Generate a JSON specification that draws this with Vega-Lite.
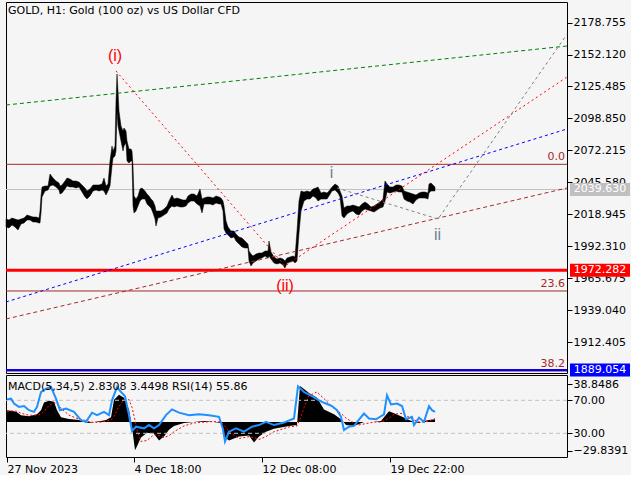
{
  "$schema": "https://vega.github.io/schema/vega-lite/v6.json",
  "background": "#F5F5F5",
  "padding": {"left": 2, "top": 1, "right": 0, "bottom": 0},
  "bounds": "flush",
  "spacing": 2,
  "config": {
    "font": "DejaVu Sans",
    "view": {"stroke": "#000000", "strokeWidth": 1, "fill": "#F5F5F5"},
    "axis": {"domain": false, "grid": false, "tickColor": "#000000", "labelColor": "#000000", "labelFontSize": 11, "labelFont": "DejaVu Sans", "tickSize": 5, "labelPadding": 1, "title": null, "labelOverlap": false, "labelFlush": false}
  },
  "datasets": {
    "price": [
      {"b":2,"hi":2015.01,"lo":2008.34},{"b":5,"hi":2014.18,"lo":2007.51},{"b":8,"hi":2015.84,"lo":2010.01},{"b":11,"hi":2015.01,"lo":2008.34},{"b":14,"hi":2014.18,"lo":2005.84},{"b":17,"hi":2015.01,"lo":2010.84},{"b":20,"hi":2015.84,"lo":2011.68},{"b":23,"hi":2018.35,"lo":2014.18},{"b":26,"hi":2017.51,"lo":2014.18},{"b":29,"hi":2016.68,"lo":2012.51},{"b":32,"hi":2016.68,"lo":2012.51},{"b":35,"hi":2015.84,"lo":2011.68},{"b":36,"hi":2021.68,"lo":2011.68},{"b":37,"hi":2034.19,"lo":2020.01},{"b":38,"hi":2041.69,"lo":2033.35},{"b":41,"hi":2042.52,"lo":2038.36},{"b":44,"hi":2042.52,"lo":2039.19},{"b":46,"hi":2052.53,"lo":2042.52},{"b":49,"hi":2049.19,"lo":2043.36},{"b":52,"hi":2046.69,"lo":2041.69},{"b":55,"hi":2045.03,"lo":2039.19},{"b":56,"hi":2042.52,"lo":2035.85},{"b":58,"hi":2043.36,"lo":2036.69},{"b":61,"hi":2046.69,"lo":2040.02},{"b":63,"hi":2049.19,"lo":2042.52},{"b":66,"hi":2048.36,"lo":2041.69},{"b":69,"hi":2046.69,"lo":2041.69},{"b":72,"hi":2046.69,"lo":2040.86},{"b":75,"hi":2045.86,"lo":2041.69},{"b":78,"hi":2043.36,"lo":2037.52},{"b":81,"hi":2040.86,"lo":2033.35},{"b":83,"hi":2038.36,"lo":2031.69},{"b":86,"hi":2040.02,"lo":2034.19},{"b":89,"hi":2043.36,"lo":2038.36},{"b":92,"hi":2043.36,"lo":2039.19},{"b":95,"hi":2043.36,"lo":2038.36},{"b":98,"hi":2044.19,"lo":2039.19},{"b":100,"hi":2049.19,"lo":2038.36},{"b":102,"hi":2042.52,"lo":2035.02},{"b":104,"hi":2044.19,"lo":2038.36},{"b":106,"hi":2063.37,"lo":2042.52},{"b":108,"hi":2075.87,"lo":2059.2},{"b":109,"hi":2071.71,"lo":2065.87},{"b":111,"hi":2075.87,"lo":2067.54},{"b":112,"hi":2113.39,"lo":2071.71},{"b":113,"hi":2135.9,"lo":2105.05},{"b":114,"hi":2121.73,"lo":2092.55},{"b":115,"hi":2105.05,"lo":2088.38},{"b":117,"hi":2092.55,"lo":2080.04},{"b":119,"hi":2088.38,"lo":2071.71},{"b":120,"hi":2090.88,"lo":2075.87},{"b":122,"hi":2088.38,"lo":2078.37},{"b":123,"hi":2080.04,"lo":2063.37},{"b":125,"hi":2073.37,"lo":2061.7},{"b":127,"hi":2073.37,"lo":2063.37},{"b":128,"hi":2071.71,"lo":2063.37},{"b":129,"hi":2059.2,"lo":2025.85},{"b":130,"hi":2034.19,"lo":2020.01},{"b":132,"hi":2031.69,"lo":2021.68},{"b":134,"hi":2034.19,"lo":2025.85},{"b":136,"hi":2040.02,"lo":2030.02},{"b":138,"hi":2040.86,"lo":2031.69},{"b":141,"hi":2038.36,"lo":2031.69},{"b":143,"hi":2035.85,"lo":2027.52},{"b":145,"hi":2034.19,"lo":2025.85},{"b":147,"hi":2031.69,"lo":2024.18},{"b":149,"hi":2030.02,"lo":2020.01},{"b":151,"hi":2025.85,"lo":2015.01},{"b":152,"hi":2021.68,"lo":2009.17},{"b":154,"hi":2021.68,"lo":2015.84},{"b":157,"hi":2021.68,"lo":2016.68},{"b":160,"hi":2023.35,"lo":2018.35},{"b":163,"hi":2025.85,"lo":2020.01},{"b":165,"hi":2030.02,"lo":2023.35},{"b":168,"hi":2035.02,"lo":2025.85},{"b":170,"hi":2031.69,"lo":2025.02},{"b":173,"hi":2032.52,"lo":2025.85},{"b":176,"hi":2031.69,"lo":2025.02},{"b":179,"hi":2030.85,"lo":2025.02},{"b":182,"hi":2030.85,"lo":2025.85},{"b":184,"hi":2034.19,"lo":2028.35},{"b":187,"hi":2035.85,"lo":2030.02},{"b":190,"hi":2035.85,"lo":2030.02},{"b":193,"hi":2034.19,"lo":2027.52},{"b":196,"hi":2040.02,"lo":2025.85},{"b":198,"hi":2031.69,"lo":2020.01},{"b":200,"hi":2032.52,"lo":2027.52},{"b":203,"hi":2033.35,"lo":2027.52},{"b":206,"hi":2033.35,"lo":2027.52},{"b":209,"hi":2032.52,"lo":2026.68},{"b":212,"hi":2034.19,"lo":2028.35},{"b":215,"hi":2033.35,"lo":2027.52},{"b":217,"hi":2032.52,"lo":2027.52},{"b":219,"hi":2030.02,"lo":2021.68},{"b":220,"hi":2025.85,"lo":2006.67},{"b":222,"hi":2013.34,"lo":2003.34},{"b":224,"hi":2008.34,"lo":2001.67},{"b":227,"hi":2005.01,"lo":1999.17},{"b":230,"hi":2005.01,"lo":2000.0},{"b":232,"hi":2002.51,"lo":1996.68},{"b":235,"hi":2000.0,"lo":1994.17},{"b":238,"hi":1999.17,"lo":1991.67},{"b":241,"hi":1996.68,"lo":1990.84},{"b":244,"hi":1994.17,"lo":1990.84},{"b":245,"hi":1988.34,"lo":1980.0},{"b":247,"hi":1985.83,"lo":1975.83},{"b":249,"hi":1984.17,"lo":1978.33},{"b":252,"hi":1985.83,"lo":1980.0},{"b":255,"hi":1986.67,"lo":1981.67},{"b":258,"hi":1986.67,"lo":1982.5},{"b":261,"hi":1988.34,"lo":1984.17},{"b":264,"hi":1988.34,"lo":1982.5},{"b":265,"hi":1996.68,"lo":1984.17},{"b":267,"hi":1987.5,"lo":1981.67},{"b":270,"hi":1983.33,"lo":1978.33},{"b":273,"hi":1981.67,"lo":1977.5},{"b":276,"hi":1982.5,"lo":1978.33},{"b":279,"hi":1981.67,"lo":1976.66},{"b":281,"hi":1980.0,"lo":1974.16},{"b":283,"hi":1982.5,"lo":1978.33},{"b":286,"hi":1983.33,"lo":1979.17},{"b":289,"hi":1984.17,"lo":1980.0},{"b":291,"hi":1983.33,"lo":1978.33},{"b":293,"hi":2005.01,"lo":1980.0},{"b":295,"hi":2030.02,"lo":2003.34},{"b":297,"hi":2038.36,"lo":2021.68},{"b":300,"hi":2037.52,"lo":2030.02},{"b":303,"hi":2038.36,"lo":2031.69},{"b":306,"hi":2037.52,"lo":2031.69},{"b":309,"hi":2040.02,"lo":2034.19},{"b":312,"hi":2040.86,"lo":2032.52},{"b":314,"hi":2041.69,"lo":2030.02},{"b":317,"hi":2036.69,"lo":2031.69},{"b":320,"hi":2037.52,"lo":2031.69},{"b":323,"hi":2036.69,"lo":2031.69},{"b":325,"hi":2038.36,"lo":2034.19},{"b":328,"hi":2041.69,"lo":2038.36},{"b":331,"hi":2044.19,"lo":2039.19},{"b":334,"hi":2042.52,"lo":2036.69},{"b":336,"hi":2038.36,"lo":2033.35},{"b":338,"hi":2034.19,"lo":2017.51},{"b":340,"hi":2024.18,"lo":2015.84},{"b":343,"hi":2025.85,"lo":2019.18},{"b":346,"hi":2025.85,"lo":2020.85},{"b":349,"hi":2026.68,"lo":2021.68},{"b":352,"hi":2025.85,"lo":2019.18},{"b":355,"hi":2025.02,"lo":2018.35},{"b":358,"hi":2027.52,"lo":2021.68},{"b":361,"hi":2029.18,"lo":2023.35},{"b":364,"hi":2027.52,"lo":2022.51},{"b":367,"hi":2025.02,"lo":2021.68},{"b":370,"hi":2025.85,"lo":2020.85},{"b":373,"hi":2027.52,"lo":2022.51},{"b":376,"hi":2029.18,"lo":2024.18},{"b":379,"hi":2031.69,"lo":2025.02},{"b":381,"hi":2046.69,"lo":2030.02},{"b":383,"hi":2044.19,"lo":2037.52},{"b":386,"hi":2041.69,"lo":2036.69},{"b":389,"hi":2041.69,"lo":2037.52},{"b":392,"hi":2043.36,"lo":2038.36},{"b":395,"hi":2043.36,"lo":2037.52},{"b":398,"hi":2042.52,"lo":2037.52},{"b":400,"hi":2038.36,"lo":2031.69},{"b":403,"hi":2037.52,"lo":2030.02},{"b":406,"hi":2036.69,"lo":2029.18},{"b":409,"hi":2035.85,"lo":2027.52},{"b":412,"hi":2035.02,"lo":2030.85},{"b":415,"hi":2036.69,"lo":2032.52},{"b":418,"hi":2037.52,"lo":2032.52},{"b":421,"hi":2037.52,"lo":2032.52},{"b":424,"hi":2036.69,"lo":2031.69},{"b":425,"hi":2044.19,"lo":2036.69},{"b":427,"hi":2045.03,"lo":2038.36},{"b":429,"hi":2043.36,"lo":2038.36},{"b":431,"hi":2041.69,"lo":2038.36}
    ],
    "fib": [{"level":"0.0","price":2060.6},{"level":"23.6","price":1955.0},{"level":"38.2","price":1888.2}],
    "tags": [{"tag":"last","price":2039.63},{"tag":"support","price":1972.282},{"tag":"target","price":1889.054}],
    "trends": [
      {"id":"green","b":2,"price":2110.06},{"id":"green","b":563,"price":2159.24},
      {"id":"blue","b":2,"price":1945.82},{"id":"blue","b":563,"price":2090.05},
      {"id":"brown","b":2,"price":1931.64},{"id":"brown","b":563,"price":2040.86},
      {"id":"red","b":112,"price":2138.4},{"id":"red","b":281,"price":1975.83},{"id":"red","b":563,"price":2133.4},
      {"id":"gray","b":333,"price":2040.86},{"id":"gray","b":434,"price":2015.01},{"id":"gray","b":563,"price":2169.0}
    ],
    "waves": [
      {"label":"(i)","degree":"major","b":111,"price":2150.91},
      {"label":"(ii)","degree":"major","b":281,"price":1959.4},
      {"label":"i","degree":"minor","b":327.5,"price":2052.95},
      {"label":"ii","degree":"minor","b":433.5,"price":2001.26}
    ],
    "macd": [
      {"b":3,"macd":12,"sig":11},{"b":10,"macd":11,"sig":11.5},{"b":13,"macd":10,"sig":11},{"b":17,"macd":7,"sig":9},{"b":25,"macd":6,"sig":7},{"b":33,"macd":8,"sig":7},{"b":37,"macd":12,"sig":8},{"b":40,"macd":20,"sig":11},{"b":45,"macd":22,"sig":17},{"b":50,"macd":21,"sig":20},{"b":53,"macd":12,"sig":19},{"b":57,"macd":5,"sig":14},{"b":65,"macd":3,"sig":7},{"b":75,"macd":2,"sig":3},{"b":80,"macd":0,"sig":2},{"b":85,"macd":-1,"sig":0.5},{"b":90,"macd":0,"sig":-0.5},{"b":97,"macd":1,"sig":0},{"b":102,"macd":2,"sig":1},{"b":107,"macd":5,"sig":2},{"b":110,"macd":23,"sig":6},{"b":115,"macd":28,"sig":16},{"b":120,"macd":25,"sig":23},{"b":125,"macd":13,"sig":23},{"b":128,"macd":-5,"sig":15},{"b":131,"macd":-29,"sig":2},{"b":133,"macd":-25,"sig":-8},{"b":137,"macd":-16,"sig":-20},{"b":143,"macd":-11,"sig":-19},{"b":150,"macd":-12,"sig":-13},{"b":155,"macd":-19,"sig":-14},{"b":160,"macd":-15,"sig":-16},{"b":165,"macd":-8,"sig":-14},{"b":170,"macd":-4,"sig":-10},{"b":180,"macd":-1,"sig":-4},{"b":190,"macd":0,"sig":-1},{"b":200,"macd":1,"sig":0},{"b":210,"macd":0,"sig":0.5},{"b":217,"macd":-1,"sig":0},{"b":220,"macd":-15,"sig":-3},{"b":225,"macd":-19,"sig":-10},{"b":235,"macd":-15,"sig":-17},{"b":245,"macd":-14,"sig":-15},{"b":250,"macd":-21,"sig":-16},{"b":255,"macd":-15,"sig":-18},{"b":262,"macd":-10,"sig":-15},{"b":270,"macd":-7,"sig":-10},{"b":285,"macd":-4,"sig":-5},{"b":293,"macd":-3,"sig":-4},{"b":296,"macd":37,"sig":3},{"b":300,"macd":34,"sig":15},{"b":305,"macd":30,"sig":27},{"b":313,"macd":25,"sig":31},{"b":320,"macd":13,"sig":24},{"b":330,"macd":8,"sig":14},{"b":338,"macd":2,"sig":8},{"b":342,"macd":-3,"sig":4},{"b":350,"macd":-4,"sig":-1},{"b":355,"macd":-2,"sig":-3},{"b":360,"macd":0,"sig":-2},{"b":370,"macd":0,"sig":0},{"b":377,"macd":1,"sig":0},{"b":380,"macd":5,"sig":1},{"b":385,"macd":11,"sig":4},{"b":390,"macd":9,"sig":8},{"b":397,"macd":6,"sig":9},{"b":405,"macd":2,"sig":5},{"b":410,"macd":0,"sig":2},{"b":415,"macd":-1,"sig":0},{"b":420,"macd":1,"sig":0},{"b":425,"macd":2,"sig":1},{"b":431,"macd":2.8308,"sig":3.4498}
    ],
    "rsi": [
      {"b":3,"rsi":71},{"b":7,"rsi":72},{"b":10,"rsi":66},{"b":15,"rsi":62},{"b":20,"rsi":63},{"b":25,"rsi":58},{"b":30,"rsi":56},{"b":33,"rsi":62},{"b":37,"rsi":80},{"b":42,"rsi":84},{"b":47,"rsi":86},{"b":52,"rsi":72},{"b":56,"rsi":58},{"b":62,"rsi":60},{"b":70,"rsi":56},{"b":77,"rsi":46},{"b":82,"rsi":44},{"b":88,"rsi":55},{"b":93,"rsi":52},{"b":100,"rsi":56},{"b":105,"rsi":52},{"b":108,"rsi":70},{"b":113,"rsi":86},{"b":117,"rsi":80},{"b":121,"rsi":75},{"b":125,"rsi":52},{"b":128,"rsi":33},{"b":132,"rsi":38},{"b":140,"rsi":36},{"b":145,"rsi":40},{"b":150,"rsi":36},{"b":155,"rsi":40},{"b":162,"rsi":52},{"b":168,"rsi":59},{"b":175,"rsi":55},{"b":185,"rsi":52},{"b":195,"rsi":53},{"b":205,"rsi":52},{"b":215,"rsi":50},{"b":219,"rsi":35},{"b":221,"rsi":20},{"b":225,"rsi":32},{"b":232,"rsi":36},{"b":240,"rsi":32},{"b":248,"rsi":38},{"b":255,"rsi":40},{"b":262,"rsi":44},{"b":270,"rsi":40},{"b":280,"rsi":43},{"b":290,"rsi":48},{"b":294,"rsi":87},{"b":300,"rsi":80},{"b":308,"rsi":75},{"b":315,"rsi":70},{"b":320,"rsi":67},{"b":328,"rsi":63},{"b":333,"rsi":58},{"b":337,"rsi":50},{"b":340,"rsi":34},{"b":345,"rsi":38},{"b":350,"rsi":39},{"b":356,"rsi":48},{"b":360,"rsi":54},{"b":365,"rsi":48},{"b":372,"rsi":47},{"b":380,"rsi":53},{"b":383,"rsi":76},{"b":387,"rsi":65},{"b":393,"rsi":66},{"b":398,"rsi":63},{"b":402,"rsi":47},{"b":408,"rsi":50},{"b":410,"rsi":40},{"b":415,"rsi":49},{"b":420,"rsi":44},{"b":425,"rsi":63},{"b":428,"rsi":58},{"b":431,"rsi":55.86}
    ],
    "rsiLevels": [{"v":70},{"v":30}]
  },
  "vconcat": [
    {
      "width": 561,
      "height": 371,
      "title": {"text": "GOLD, H1:  Gold (100 oz) vs US Dollar CFD", "anchor": "start", "frame": "group", "offset": -14, "dx": 2, "fontSize": 11, "fontWeight": "normal", "color": "#000000", "font": "DejaVu Sans"},
      "layer": [
        {
          "data": {"name": "fib"},
          "mark": {"type": "rule", "color": "#A52A2A", "strokeWidth": 1},
          "encoding": {
            "y": {"field": "price", "type": "quantitative", "scale": {"domain": [1886.62, 2195.93], "nice": false, "zero": false},
              "axis": {"orient": "right", "values": [2178.755, 2152.12, 2125.485, 2098.85, 2072.215, 2045.58, 2018.945, 1992.31, 1965.675, 1939.04, 1912.405], "tickCount": 30, "format": ".3f", "labelOverlap": false, "labelBound": false}}
          }
        },
        {
          "data": {"name": "tags"},
          "transform": [{"filter": "datum.tag == 'last'"}],
          "mark": {"type": "rule", "color": "#C0C0C0", "strokeWidth": 1},
          "encoding": {"y": {"field": "price", "type": "quantitative"}}
        },
        {
          "data": {"name": "tags"},
          "transform": [{"filter": "datum.tag == 'support'"}],
          "mark": {"type": "rule", "color": "#FF0000", "strokeWidth": 3},
          "encoding": {"y": {"field": "price", "type": "quantitative"}}
        },
        {
          "data": {"name": "tags"},
          "transform": [{"filter": "datum.tag == 'target'"}],
          "mark": {"type": "rule", "color": "#0000FF", "strokeWidth": 2},
          "encoding": {"y": {"field": "price", "type": "quantitative"}}
        },
        {
          "data": {"name": "price"},
          "mark": {"type": "area", "color": "#000000", "stroke": "#000000", "strokeWidth": 0.5, "interpolate": "linear"},
          "encoding": {
            "x": {"field": "b", "type": "quantitative", "scale": {"domain": [2, 563], "nice": false, "zero": false}, "axis": null},
            "y": {"field": "hi", "type": "quantitative"},
            "y2": {"field": "lo"}
          }
        },
        {
          "data": {"name": "trends"},
          "transform": [{"filter": "datum.id == 'green'"}],
          "mark": {"type": "line", "color": "#008000", "strokeWidth": 1, "strokeDash": [4, 3]},
          "encoding": {
            "x": {"field": "b", "type": "quantitative", "scale": {"domain": [2, 563], "nice": false, "zero": false}, "axis": null},
            "y": {"field": "price", "type": "quantitative"}
          }
        },
        {
          "data": {"name": "trends"},
          "transform": [{"filter": "datum.id == 'blue'"}],
          "mark": {"type": "line", "color": "#0000FF", "strokeWidth": 1, "strokeDash": [3, 3]},
          "encoding": {
            "x": {"field": "b", "type": "quantitative", "scale": {"domain": [2, 563], "nice": false, "zero": false}, "axis": null},
            "y": {"field": "price", "type": "quantitative"}
          }
        },
        {
          "data": {"name": "trends"},
          "transform": [{"filter": "datum.id == 'brown'"}],
          "mark": {"type": "line", "color": "#A52A2A", "strokeWidth": 1, "strokeDash": [4, 3]},
          "encoding": {
            "x": {"field": "b", "type": "quantitative", "scale": {"domain": [2, 563], "nice": false, "zero": false}, "axis": null},
            "y": {"field": "price", "type": "quantitative"}
          }
        },
        {
          "data": {"name": "trends"},
          "transform": [{"filter": "datum.id == 'red'"}],
          "mark": {"type": "line", "color": "#FF0000", "strokeWidth": 1, "strokeDash": [2, 3]},
          "encoding": {
            "x": {"field": "b", "type": "quantitative", "scale": {"domain": [2, 563], "nice": false, "zero": false}, "axis": null},
            "y": {"field": "price", "type": "quantitative"}
          }
        },
        {
          "data": {"name": "trends"},
          "transform": [{"filter": "datum.id == 'gray'"}],
          "mark": {"type": "line", "color": "#808080", "strokeWidth": 1, "strokeDash": [3, 3]},
          "encoding": {
            "x": {"field": "b", "type": "quantitative", "scale": {"domain": [2, 563], "nice": false, "zero": false}, "axis": null},
            "y": {"field": "price", "type": "quantitative"}
          }
        },
        {
          "data": {"name": "waves"},
          "transform": [{"filter": "datum.degree == 'major'"}],
          "mark": {"type": "text", "color": "#FF0000", "font": "Liberation Sans", "fontSize": 16, "align": "center", "baseline": "middle"},
          "encoding": {
            "x": {"field": "b", "type": "quantitative", "scale": {"domain": [2, 563], "nice": false, "zero": false}, "axis": null},
            "y": {"field": "price", "type": "quantitative"},
            "text": {"field": "label"}
          }
        },
        {
          "data": {"name": "waves"},
          "transform": [{"filter": "datum.degree == 'minor'"}],
          "mark": {"type": "text", "color": "#708090", "font": "Liberation Sans", "fontSize": 16, "align": "center", "baseline": "middle"},
          "encoding": {
            "x": {"field": "b", "type": "quantitative", "scale": {"domain": [2, 563], "nice": false, "zero": false}, "axis": null},
            "y": {"field": "price", "type": "quantitative"},
            "text": {"field": "label"}
          }
        },
        {
          "data": {"name": "fib"},
          "mark": {"type": "text", "color": "#A52A2A", "fontSize": 11, "align": "right", "baseline": "bottom", "dy": -2},
          "encoding": {
            "x": {"datum": 561, "type": "quantitative", "scale": {"domain": [2, 563], "nice": false, "zero": false}, "axis": null},
            "y": {"field": "price", "type": "quantitative"},
            "text": {"field": "level"}
          }
        },
        {
          "data": {"name": "tags"},
          "mark": {"type": "tick", "orient": "horizontal", "size": 60, "thickness": 13, "opacity": 1},
          "encoding": {
            "x": {"datum": 596, "type": "quantitative", "scale": {"domain": [2, 563], "nice": false, "zero": false}, "axis": null},
            "y": {"field": "price", "type": "quantitative"},
            "color": {"field": "tag", "type": "nominal", "scale": {"domain": ["last", "support", "target"], "range": ["#C0C0C0", "#FF0000", "#0000FF"]}, "legend": null}
          }
        },
        {
          "data": {"name": "tags"},
          "mark": {"type": "text", "color": "#FFFFFF", "fontSize": 11, "align": "center", "baseline": "middle"},
          "encoding": {
            "x": {"datum": 596, "type": "quantitative", "scale": {"domain": [2, 563], "nice": false, "zero": false}, "axis": null},
            "y": {"field": "price", "type": "quantitative"},
            "text": {"field": "price", "type": "quantitative", "format": ".3f"}
          }
        }
      ]
    },
    {
      "width": 561,
      "height": 82,
      "title": {"text": "MACD(5,34,5) 2.8308 3.4498 RSI(14) 55.86", "anchor": "start", "frame": "group", "offset": -17, "dx": 2, "fontSize": 11, "fontWeight": "normal", "color": "#000000", "font": "DejaVu Sans"},
      "resolve": {"scale": {"y": "independent"}, "axis": {"y": "independent"}},
      "layer": [
        {
          "layer": [
            {
              "data": {"name": "macd"},
              "mark": {"type": "area", "color": "#000000", "interpolate": "linear"},
              "encoding": {
                "x": {"field": "b", "type": "quantitative", "scale": {"domain": [2, 563], "nice": false, "zero": false},
                  "axis": {"values": [3, 130, 258, 386], "tickCount": 20, "labelExpr": "datum.value == 3 ? '27 Nov 2023' : datum.value == 130 ? '4 Dec 18:00' : datum.value == 258 ? '12 Dec 08:00' : '19 Dec 22:00'", "labelAlign": "left", "labelBaseline": "top", "labelPadding": 1, "labelOverlap": false}},
                "y": {"field": "macd", "type": "quantitative", "scale": {"domain": [-36.02, 48.43], "nice": false, "zero": false},
                  "axis": {"orient": "right", "values": [38.8486, -29.8391], "tickCount": 10, "format": ".4f", "labelOverlap": false}},
                "y2": {"datum": 0}
              }
            },
            {
              "data": {"name": "macd"},
              "mark": {"type": "line", "color": "#FF0000", "strokeWidth": 1, "strokeDash": [2, 2]},
              "encoding": {
                "x": {"field": "b", "type": "quantitative", "scale": {"domain": [2, 563], "nice": false, "zero": false}},
                "y": {"field": "sig", "type": "quantitative"}
              }
            }
          ]
        },
        {
          "layer": [
            {
              "data": {"name": "rsiLevels"},
              "mark": {"type": "rule", "color": "#C0C0C0", "strokeWidth": 1, "strokeDash": [4, 3]},
              "encoding": {
                "y": {"field": "v", "type": "quantitative", "scale": {"domain": [1.27, 100.67], "nice": false, "zero": false},
                  "axis": {"orient": "right", "values": [70, 30], "tickCount": 10, "format": ".2f", "labelOverlap": false}}
              }
            },
            {
              "data": {"name": "rsi"},
              "mark": {"type": "line", "color": "#1E90FF", "strokeWidth": 2},
              "encoding": {
                "x": {"field": "b", "type": "quantitative", "scale": {"domain": [2, 563], "nice": false, "zero": false}},
                "y": {"field": "rsi", "type": "quantitative"}
              }
            }
          ]
        }
      ]
    }
  ]
}
